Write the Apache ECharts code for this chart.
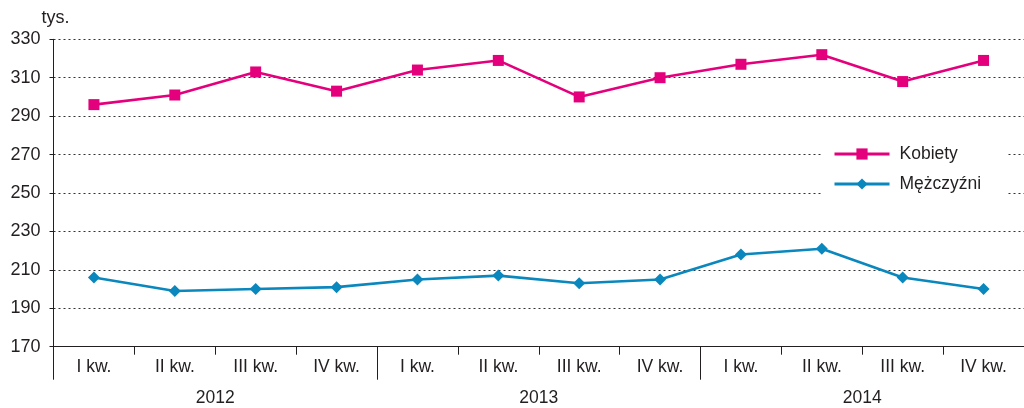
<!DOCTYPE html>
<html>
<head>
<meta charset="utf-8">
<script src="https://cdn.jsdelivr.net/npm/echarts@6/dist/echarts.min.js"></script>
<style>
  html, body { margin: 0; padding: 0; background: #fff; }
  #chart { width: 1024px; height: 408px; }
</style>
</head>
<body>
<div id="chart"></div>
<script>
// kwartały i lata
var quarters = ['I kw.', 'II kw.', 'III kw.', 'IV kw.', 'I kw.', 'II kw.', 'III kw.', 'IV kw.', 'I kw.', 'II kw.', 'III kw.', 'IV kw.'];
var years = ['2012', '2013', '2014'];
// wartości w tys.
var kobiety = [296, 301, 313, 303, 314, 319, 300, 310, 317, 322, 308, 319];
var mezczyzni = [206, 199, 200, 201, 205, 207, 203, 205, 218, 221, 206, 200];

var chart = echarts.init(document.getElementById('chart'));
var font = 'Liberation Sans, Arial, sans-serif';
var textColor = '#231f20';

chart.setOption({
  animation: false,
  textStyle: { fontFamily: font },
  grid: {
    left: 53.5,
    top: 39.3,
    width: 975.6,
    height: 307.4
  },
  legend: {
    orient: 'vertical',
    left: 823,
    top: 136,
    padding: [9, 25, 10, 10],
    backgroundColor: '#fff',
    itemWidth: 55,
    itemHeight: 14,
    itemGap: 12,
    lineStyle: { width: 3 },
    textStyle: { fontSize: 17.5, color: textColor, fontFamily: font, padding: [0, 0, 0, 5] },
    data: ['Kobiety', 'Mężczyźni']
  },
  xAxis: [{
    type: 'category',
    data: quarters,
    position: 'bottom',
    axisLine: { show: true, lineStyle: { color: '#231f20', width: 1 } },
    axisTick: { show: true, length: 8, interval: 0, lineStyle: { color: '#231f20' } },
    axisLabel: { interval: 0, margin: 11, fontSize: 17.5, color: textColor, fontFamily: font }
  }, {
    type: 'category',
    data: years,
    position: 'bottom',
    axisLine: { show: false },
    axisTick: { show: true, length: 33, interval: 0, lineStyle: { color: '#231f20' } },
    axisLabel: { interval: 0, margin: 42, fontSize: 17.5, color: textColor, fontFamily: font }
  }],
  yAxis: {
    type: 'value',
    name: 'tys.',
    nameLocation: 'end',
    nameGap: 12,
    nameTextStyle: { fontSize: 18, color: textColor, align: 'left', padding: [0, 0, 0, -12] },
    min: 170,
    max: 330,
    interval: 20,
    axisLine: { show: true, lineStyle: { color: '#231f20', width: 1 } },
    axisTick: { show: true, length: 4, lineStyle: { color: '#231f20' } },
    axisLabel: { margin: 13, fontSize: 18, color: textColor, fontFamily: font },
    splitLine: { show: true, lineStyle: { type: [2, 3], color: '#333', width: 1 } }
  },
  series: [{
    name: 'Kobiety',
    type: 'line',
    data: kobiety,
    symbol: 'rect',
    symbolSize: 11,
    lineStyle: { color: '#e4007c', width: 2.6 },
    itemStyle: { color: '#e4007c' }
  }, {
    name: 'Mężczyźni',
    type: 'line',
    data: mezczyzni,
    symbol: 'diamond',
    symbolSize: 12,
    lineStyle: { color: '#0a87bd', width: 2.6 },
    itemStyle: { color: '#0a87bd' }
  }]
});
</script>
</body>
</html>
